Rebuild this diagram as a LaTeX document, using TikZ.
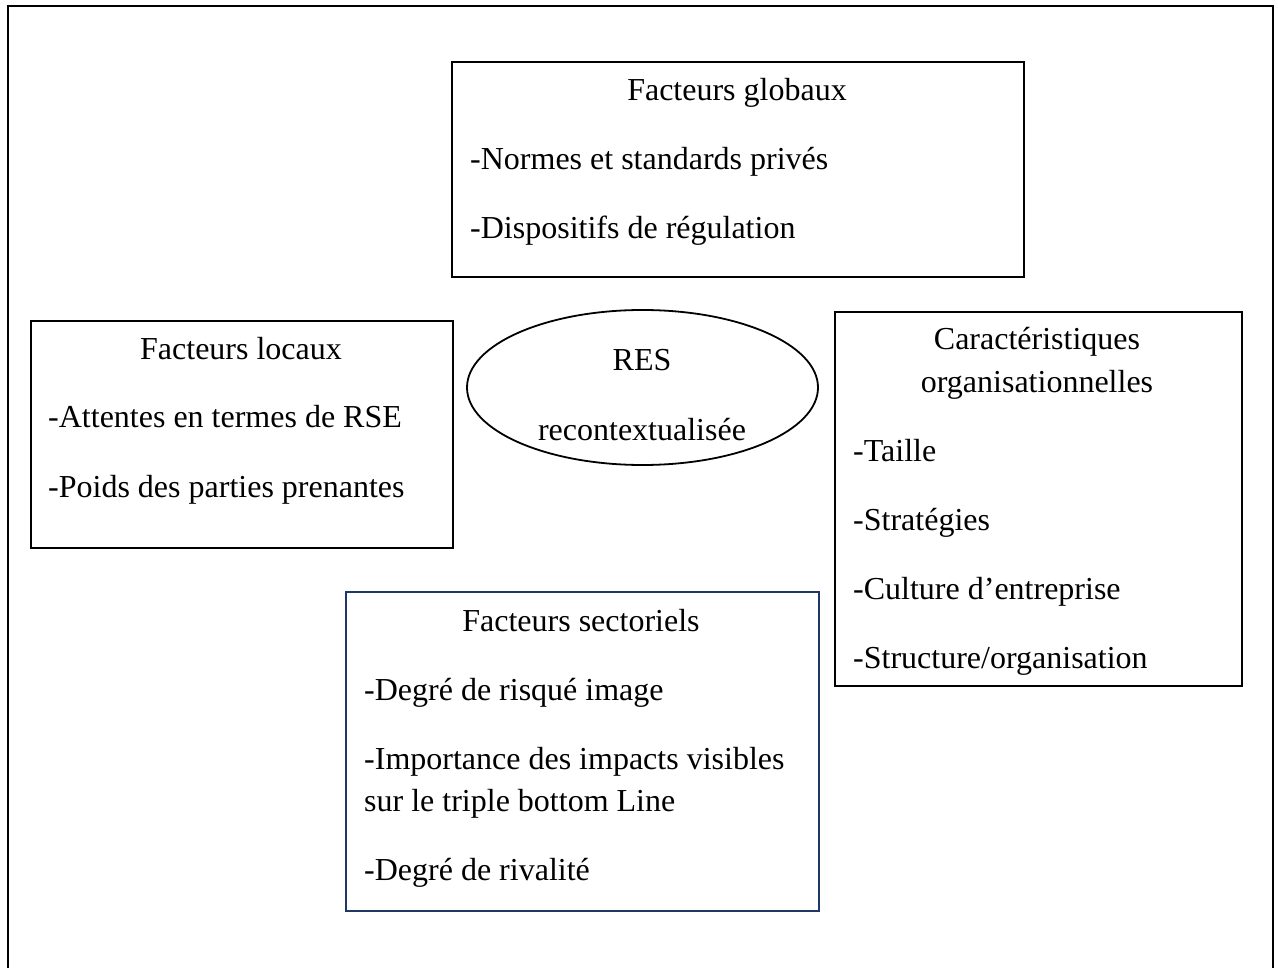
\documentclass[tikz,border=0pt]{standalone}
\usepackage{fontspec}
\setmainfont{Liberation Serif}
\usetikzlibrary{shapes.geometric}
\definecolor{navyframe}{HTML}{1F3864}
\tikzset{
  box/.style={draw=black, line width=2.2pt, anchor=north west, inner sep=0pt},
  navybox/.style={box, draw=navyframe},
  oval/.style={draw=black, line width=1.8pt, ellipse, inner sep=0pt},
  title/.style={anchor=base, inner sep=0pt, font=\fontsize{32}{38}\selectfont},
  item/.style={anchor=base west, inner sep=0pt, font=\fontsize{32}{38}\selectfont},
}
\begin{document}
\begin{tikzpicture}[x=1pt, y=-1pt]
\useasboundingbox (0,0) rectangle (1278,968);
% outer frame, open at the bottom
\draw[line width=2.6pt] (8,968) -- (8,6) -- (1273,6) -- (1273,968);

% global factors
\node[box, minimum width=572pt, minimum height=215pt] (glob) at (451,61) {};
\node[title] (globT) at (737,101) {Facteurs globaux};
\node[item] (glob1) at (470,170) {-Normes et standards privés};
\node[item] (glob2) at (470,239) {-Dispositifs de régulation};

% local factors
\node[box, minimum width=422pt, minimum height=227pt] (loc) at (30,320) {};
\node[title] (locT) at (241,360) {Facteurs locaux};
\node[item] (loc1) at (48,428) {-Attentes en termes de RSE};
\node[item] (loc2) at (48,497) {-Poids des parties prenantes};

% centre
\node[oval, minimum width=351pt, minimum height=155pt] (res) at (642.5,387.5) {};
\node[title] (res1) at (642,371) {RES};
\node[title] (res2) at (642,440) {recontextualisée};

% organisational characteristics
\node[box, minimum width=407pt, minimum height=374pt] (org) at (834,311) {};
\node[title] (orgT1) at (1037,350) {Caractéristiques};
\node[title] (orgT2) at (1037,392) {organisationnelles};
\node[item] (org1) at (853,461) {-Taille};
\node[item] (org2) at (853,530) {-Stratégies};
\node[item] (org3) at (853,599) {-Culture d’entreprise};
\node[item] (org4) at (853,668) {-Structure/organisation};

% sector factors
\node[navybox, minimum width=473pt, minimum height=319pt] (sec) at (345,591) {};
\node[title] (secT) at (581,631) {Facteurs sectoriels};
\node[item] (sec1) at (364,700) {-Degré de risqué image};
\node[item] (sec2) at (364,769) {-Importance des impacts visibles};
\node[item] (sec3) at (364,811) {sur le triple bottom Line};
\node[item] (sec4) at (364,880) {-Degré de rivalité};
\end{tikzpicture}
\end{document}
